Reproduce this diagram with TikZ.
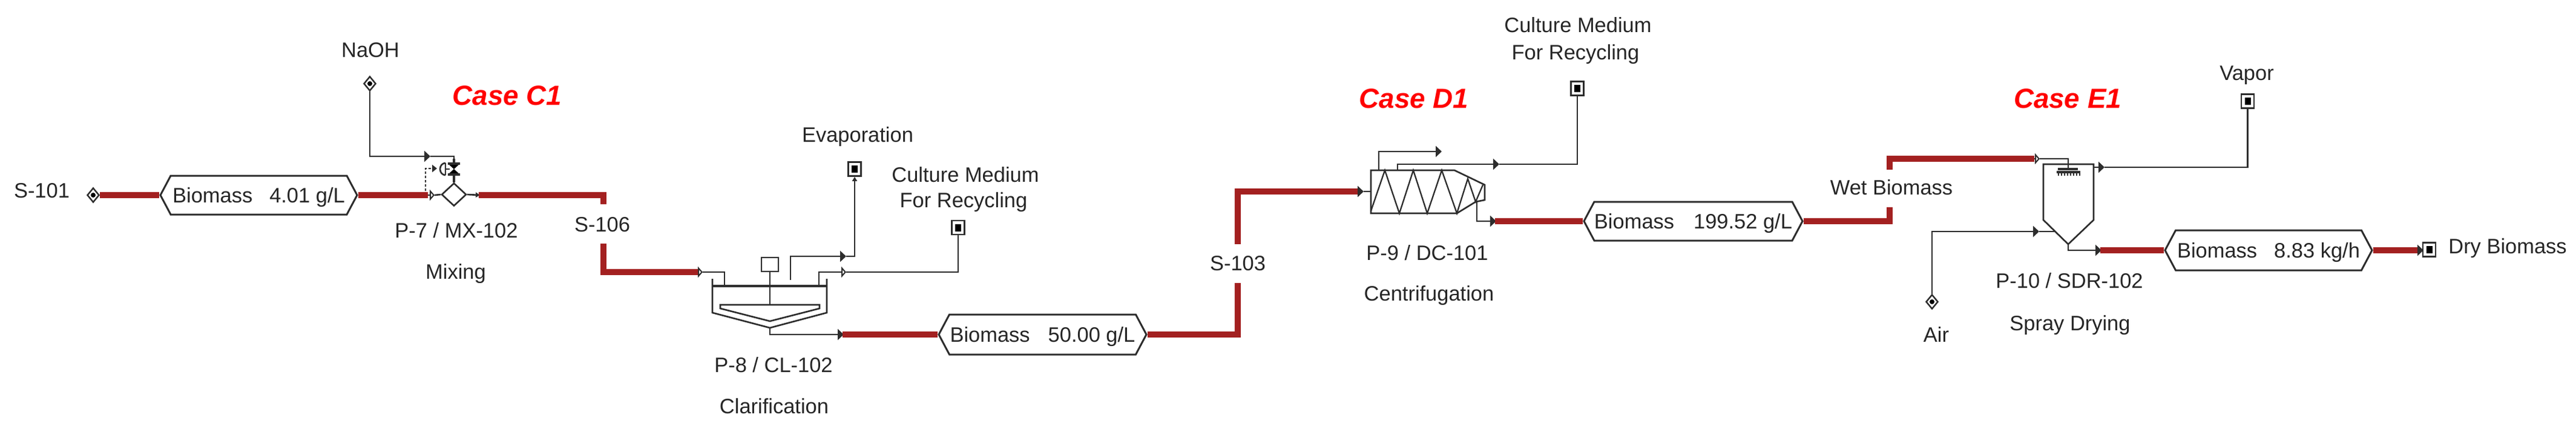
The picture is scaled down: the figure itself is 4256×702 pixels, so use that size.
\documentclass[tikz,border=0pt]{standalone}
\usepackage{fontspec}
\setmainfont{Liberation Sans}
\usetikzlibrary{shapes.geometric,shapes.symbols,arrows.meta}
\definecolor{pipered}{RGB}{163,32,32}
\definecolor{pipeink}{RGB}{45,45,45}
\tikzset{
  lab/.style={inner sep=0pt,text height=0.25cm,text depth=0pt,text=black!85,font=\fontsize{9.8}{12}\selectfont},
  caselab/.style={inner sep=0pt,text height=0.33cm,text depth=0pt,text=red,font=\fontsize{13}{15}\selectfont\bfseries\itshape},
  stream/.style={pipered,line width=2.85pt},
  pipe/.style={pipeink,line width=0.75pt},
  tipfull/.style={-{Triangle[length=0.1cm,width=0.18cm]}},
  tipopen/.style={-{Triangle[open,fill=white,length=0.08cm,width=0.18cm]}},
  tipsmall/.style={-{Triangle[length=0.07cm,width=0.08cm]}},
  tagbox/.style={lab,shape=signal,signal to=west and east,signal pointer angle=124,draw=pipeink,fill=white,line width=0.85pt,minimum height=#1},
  feed/.style={shape=diamond,draw=pipeink,fill=white,line width=0.7pt,inner sep=0pt,minimum width=0.2cm,minimum height=0.24cm,
    path picture={\fill[black] (path picture bounding box.center) circle (0.04cm);}},
  sink/.style={shape=rectangle,draw=pipeink,fill=white,line width=0.75pt,inner sep=0pt,minimum width=0.21cm,minimum height=0.23cm,
    path picture={\fill[black] ([xshift=-0.05cm,yshift=-0.06cm]path picture bounding box.center) rectangle ([xshift=0.05cm,yshift=0.06cm]path picture bounding box.center);}}
}
\begin{document}
\begin{tikzpicture}[x=0.01cm,y=-0.01cm]
    \useasboundingbox (0,0) rectangle (4256,702);

    \foreach \x/\y/\t [count=\n] in {69/314/S-101,612/82/NaOH,754/380/{P-7 / MX-102},753/448/Mixing,995/370/S-106,
        1417/222/Evaporation,1595/288/Culture Medium,1592/330/For Recycling,1278/602/{P-8 / CL-102},1279/670/Clarification,
        2045/434/S-103,2607/41/Culture Medium,2603/86/For Recycling,2358/417/{P-9 / DC-101},2361/484/Centrifugation,
        3125/309/Wet Biomass,3712/120/Vapor,3199/552/Air,3419/463/{P-10 / SDR-102},3420/533/Spray Drying,4143/406/Dry Biomass}
        \node[lab] (L\n) at (\x,\y) {\t};

    \foreach \x/\y/\t [count=\n] in {838/157/Case C1,2336/162/Case D1,3416/162/Case E1}
        \node[caselab] (K\n) at (\x,\y) {\t};

    \foreach \x/\y/\w/\h/\g/\t [count=\n] in {427.5/322/325/64/0.28/{4.01 g/L},1722.5/552/343/66/0.30/{50.00 g/L},
        2797.5/365/361/64/0.32/{199.52 g/L},3748/413/342/66/0.28/{8.83 kg/h}}
        \node[tagbox=\h*0.01cm,minimum width=\w*0.01cm] (H\n) at (\x,\y) {Biomass\hspace{\g cm}\t};

    \foreach \x/\y [count=\n] in {154/322,611/138,3192/498}
        \node[feed] (F\n) at (\x,\y) {};
    \foreach \x/\y [count=\n] in {1412/279,1583/375.5,2606/146,3713.5/167,4013.5/412}
        \node[sink] (O\n) at (\x,\y) {};

    \foreach \p/\x/\y in {a1/707/322,a2/718/322,a3/711/258,a4/750/270,a5/793/322,a6/791/322,a7/997/337,a8/997/402,
        c1/1153/449,c2/1161/449,c3/1197/471,c4/1306/462,c5/1398/423,c6/1353/471,c7/1398/449,c8/1272/541,c9/1394/552,c10/1392/552,c11/1412/300,
        d1/2045/467,d2/2045/403,d3/2243/316,d4/2253/316,d5/2265/316,
        e1/2278/281,e2/2382/250,e3/2309/281,e4/2477/271,e5/2440/333,e6/2472/365,e7/2470/365,e8/3122/342,e9/3122/280,
        g1/3361/262,g2/3370/262,g3/3417/278,g4/3459/276,g5/3477/276,g6/3369/382,g7/3395/382,g8/3417/403,g9/3472/413,g10/3470/413,
        g11/3998/413,g12/4004/413,v1/750/288,v2/703/315,v3/722/278,v4/743/279,v5/736/279}
        \coordinate (\p) at (\x,\y);

    % mixer
    \node[shape=diamond,draw=pipeink,line width=0.75pt,inner sep=0pt,minimum width=0.41cm,minimum height=0.38cm] (M) at (750,321) {};
    \draw[stream] (F1) -- (H1.west);
    \draw[stream] (H1.east) -- (a1);
    \draw[pipe,tipopen] (a1) -- (a2);
    \draw[pipe] (a2) -- (M.west);
    \draw[pipe,tipsmall] (M.east) -- (a5);
    \draw[pipe,tipfull] (F2.south) |- (a3);
    \draw[pipe] (a3) -| (a4);
    \fill[black] (740,270) -- (760,270) -- (740,288) -- (760,288) -- cycle;
    \draw[pipe,line width=1.1pt] (v1) -- (M.north);
    \draw[pipe,line width=1.1pt] (a4) -- (750,262);
    \draw[pipe,line width=1pt] (740,270) -- (760,270) (740,288) -- (760,288);
    \draw[pipe,dash pattern=on 1.2pt off 0.8pt] (v2) -- (703,278) -- (715,278);
    \draw[pipe,-{Triangle[length=0.08cm,width=0.12cm]}] (715,278) -- (v3);
    \draw[pipe] (736,269) arc (90:270:9 and -10);
    \draw[pipe] (736,269) -- (736,289) (v5) -- (v4);
    \draw[stream] (a6) -| (a7);
    \draw[stream] (a8) |- (c1);

    % clarifier
    \draw[pipe,tipopen] (c1) -- (c2);
    \draw[pipe] (c2) -| (c3);
    \draw[pipe] (1177,460) -- (1177,516) -- (c8) -- (1366,516) -- (1366,460);
    \draw[pipe,line width=1pt] (1177,472) -- (1366,472);
    \draw[pipe] (1190,503) -- (1354,503) -- (1354,509) -- (1272,530) -- (1190,509) -- cycle;
    \node[draw=pipeink,line width=0.75pt,minimum width=0.28cm,minimum height=0.23cm,inner sep=0pt] (Z) at (1272,436.5) {};
    \draw[pipe] (Z.south) -- (1272,503);
    \draw[pipe,tipfull] (c4) |- (c5);
    \draw[pipe] (c5) -| (c11);
    \draw[pipe,tipsmall] (c11) -- (O1.south);
    \draw[pipe,tipopen] (c6) |- (c7);
    \draw[pipe] (c7) -| (O2.south);
    \draw[pipe,tipfull] (c8) |- (c9);
    \draw[stream] (c10) -- (H2.west);
    \draw[stream] (H2.east) -| (d1);
    \draw[stream] (d2) |- (d3);

    % centrifuge
    \draw[pipe,tipfull] (d3) -- (d4);
    \draw[pipe] (d4) -- (d5);
    \draw[pipe] (2265,352) -- (2265,281) -- (2403,281) -- (2453,305) -- (2453,330) -- (2438,333) -- (2407,352) -- cycle;
    \draw[pipe,line width=0.65pt] (2265,348) -- (2288,281) -- (2312,352) -- (2335,281) -- (2358,352) -- (2382,281) -- (2407,352) -- (2425,295) -- (2438,333) -- (2450,305);
    \draw[pipe,tipfull] (e1) |- (e2);
    \draw[pipe,tipfull] (e3) |- (e4);
    \draw[pipe] (e4) -| (O3.south);
    \draw[pipe,tipfull] (e5) |- (e6);
    \draw[stream] (e7) -- (H3.west);
    \draw[stream] (H3.east) -| (e8);
    \draw[stream] (e9) |- (g1);

    % spray dryer
    \draw[pipe,tipopen] (g1) -- (g2);
    \draw[pipe] (g2) -| (g3);
    \draw[pipe] (3417,403) -- (3376,363) -- (3376,271) -- (3459,271) -- (3459,363) -- cycle;
    \draw[pipe,line width=1pt] (3400,279) -- (3433,279);
    \draw[pipe,line width=1pt] (3398,284) -- (3437,284);
    \foreach \x in {3401,3406,...,3436}
        \draw[pipe] (\x,284) -- (\x,290);
    \draw[pipe,tipfull] (g4) -- (g5);
    \draw[pipe] (g5) -| (O4.south);
    \draw[pipe,tipfull] (F3.north) |- (g6);
    \draw[pipe] (g6) -- (g7);
    \draw[pipe,tipfull] (g8) |- (g9);
    \draw[stream] (g10) -- (H4.west);
    \draw[stream] (H4.east) -- (g11);
    \draw[pipe,tipfull] (3994,413) -- (g12);
\end{tikzpicture}
\end{document}
